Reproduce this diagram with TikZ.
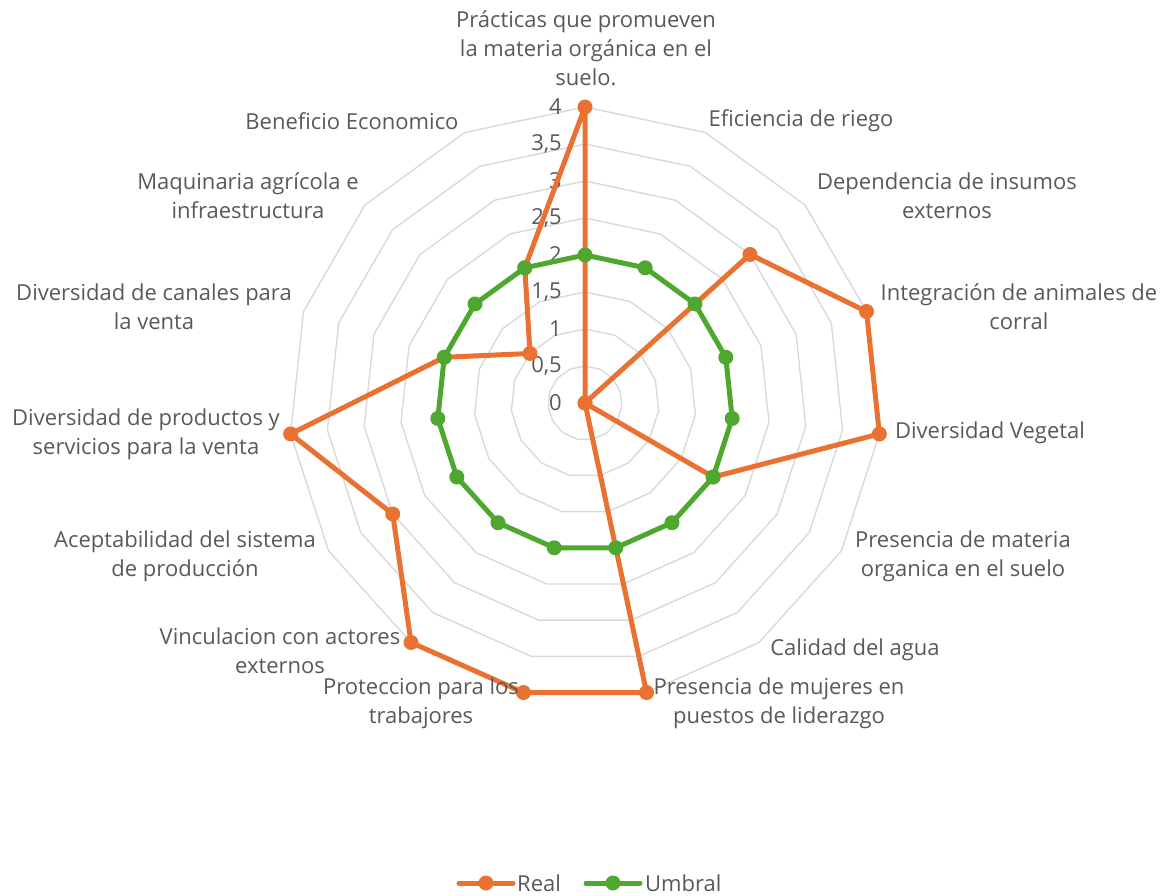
\documentclass[tikz,border=0pt]{standalone}
\usepackage{fontspec}
\setmainfont{Open Sans}
\usetikzlibrary{calc}
\definecolor{realc}{HTML}{E97132}
\definecolor{umbralc}{HTML}{4EA72E}
\definecolor{gridc}{HTML}{D9D9D9}
\definecolor{txtc}{HTML}{595959}
\begin{document}
\begin{tikzpicture}[x=1pt,y=1pt, line join=round, line cap=round,
	font=\fontsize{22}{28.8}\selectfont, text=txtc,
	lbl/.style={align=center, inner sep=0pt},
	ring/.style={gridc, line width=1.4pt},
	serie/.style={line width=5pt}]
	\useasboundingbox (0,0) rectangle (1170,-895);
	\def\u{74} % px por unidad
	\begin{scope}[shift={(585,-403)}]
		% anillos
		\foreach \k in {1,...,8}
			\draw[ring] (90:\k*\u/2) \foreach \i in {1,...,14}{ -- ({90-24*\i}:\k*\u/2)} -- cycle;
		% escala
		\foreach \v/\t in {0/0, 0.5/{0,5}, 1/1, 1.5/{1,5}, 2/2, 2.5/{2,5}, 3/3, 3.5/{3,5}, 4/4}
			\node[lbl, anchor=east] (tick\t) at (-23,\v*\u) {\t};
		% Real
		\foreach \v [count=\i from 0] in {4,0,3,4,4,2,0,4,4,4,3,4,2,1,2}
			\coordinate (r\i) at ({90-24*\i}:\v*\u);
		\draw[serie, realc] (r0) \foreach \i in {1,...,14}{ -- (r\i)} -- cycle;
		\foreach \i in {0,...,14} \fill[realc] (r\i) circle (7.5);
		% Umbral
		\foreach \v [count=\i from 0] in {2,2,2,2,2,2,2,2,2,2,2,2,2,2,2}
			\coordinate (u\i) at ({90-24*\i}:\v*\u);
		\draw[serie, umbralc] (u0) \foreach \i in {1,...,14}{ -- (u\i)} -- cycle;
		\foreach \i in {0,...,14} \fill[umbralc] (u\i) circle (7.5);
	\end{scope}
	% etiquetas
	\node[lbl] (practicas) at (586,-48) {Prácticas que promueven\\la materia orgánica en el\\suelo.};
	\node[lbl] (riego) at (801,-121) {Eficiencia de riego};
	\node[lbl] (insumos) at (947,-196) {Dependencia de insumos\\externos};
	\node[lbl] (animales) at (1019,-307) {Integración de animales de\\corral};
	\node[lbl] (vegetal) at (990,-433) {Diversidad Vegetal};
	\node[lbl] (materia) at (963,-556) {Presencia de materia\\organica en el suelo};
	\node[lbl] (agua) at (855,-650) {Calidad del agua};
	\node[lbl] (mujeres) at (779,-703) {Presencia de mujeres en\\puestos de liderazgo};
	\node[lbl] (proteccion) at (421,-703) {Proteccion para los\\trabajores};
	\node[lbl] (actores) at (280,-651) {Vinculacion con actores\\externos};
	\node[lbl] (aceptabilidad) at (185,-556) {Aceptabilidad del sistema\\de producción};
	\node[lbl] (productos) at (146,-434) {Diversidad de productos y\\servicios para la venta};
	\node[lbl] (canales) at (154,-307) {Diversidad de canales para\\la venta};
	\node[lbl] (maquinaria) at (248,-196) {Maquinaria agrícola e\\infraestructura};
	\node[lbl] (beneficio) at (352,-121) {Beneficio Economico};
	% leyenda
	\draw[serie, realc] (459,-883) -- (513,-883);
	\fill[realc] (486,-883) circle (7.5);
	\node[lbl, anchor=west] (real) at (517,-883) {Real};
	\draw[serie, umbralc] (586,-883) -- (640,-883);
	\fill[umbralc] (613,-883) circle (7.5);
	\node[lbl, anchor=west] (umbral) at (645,-883) {Umbral};
\end{tikzpicture}
\end{document}
